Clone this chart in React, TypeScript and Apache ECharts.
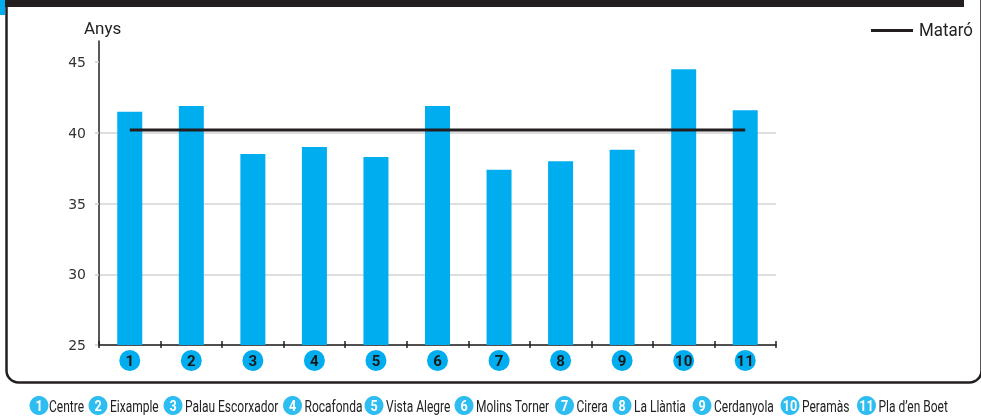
import React, { useEffect, useRef } from "react";
import * as echarts from "echarts";

const categories = ["1", "2", "3", "4", "5", "6", "7", "8", "9", "10", "11"];
const districtNames = [
  "Centre",
  "Eixample",
  "Palau Escorxador",
  "Rocafonda",
  "Vista Alegre",
  "Molins Torner",
  "Cirera",
  "La Llàntia",
  "Cerdanyola",
  "Peramàs",
  "Pla d’en Boet",
];
const ageValues = [41.5, 41.9, 38.5, 39.0, 38.3, 41.9, 37.4, 38.0, 38.8, 44.5, 41.6];
const mataroValues = [40.2, 40.2, 40.2, 40.2, 40.2, 40.2, 40.2, 40.2, 40.2, 40.2, 40.2];
const yTickValues = [25, 30, 35, 40, 45];

// layout (legend circle centres along the bottom)
const legendCentres = [39, 98, 173, 292.5, 374, 464, 564.5, 622, 702, 790, 866.5];

const COND = "Roboto, 'Noto Sans', sans-serif";
const BLUE = "#00aeef";
const DARK = "#231f20";

export default function App() {
  const ref = useRef<HTMLDivElement>(null);
  useEffect(() => {
    if (!ref.current) return;
    const chart = echarts.init(ref.current, null, { renderer: "svg" });

    const legendGraphics: any[] = [];
    districtNames.forEach((name, i) => {
      const cx = legendCentres[i];
      legendGraphics.push({
        type: "circle",
        shape: { cx, cy: 405.5, r: 9.5 },
        style: { fill: "#2ebdf0" },
        silent: true,
      });
      legendGraphics.push({
        type: "text",
        x: cx,
        y: 406,
        scaleX: 0.9,
        style: {
          text: categories[i],
          fill: "#ffffff",
          font: `bold 14px ${COND}`,
          align: "center",
          verticalAlign: "middle",
        },
        silent: true,
      });
      legendGraphics.push({
        type: "text",
        x: cx + (i === 0 ? 10 : 12),
        y: 406,
        scaleX: 0.75,
        style: {
          text: name,
          fill: "#222222",
          font: `16px ${COND}`,
          align: "left",
          verticalAlign: "middle",
        },
        silent: true,
      });
    });

    chart.setOption({
      animation: false,
      grid: { left: 99, right: 205, top: 41, bottom: 71, containLabel: false },
      xAxis: [
        {
          type: "category",
          data: categories,
          position: "bottom",
          axisLine: { show: true, lineStyle: { color: DARK, width: 1.5 } },
          axisTick: { show: true, inside: false, length: 3, lineStyle: { color: DARK, width: 1.5 } },
          axisLabel: {
            margin: 5,
            formatter: (v: string) => `{c|${v}}`,
            rich: {
              c: {
                width: 21,
                height: 21,
                lineHeight: 21,
                borderRadius: 10.5,
                backgroundColor: BLUE,
                color: "#1a1a1a",
                fontWeight: "bold",
                fontSize: 15,
                fontFamily: COND,
                align: "center",
              },
            },
          },
          splitLine: { show: false },
        },
        {
          type: "category",
          data: categories,
          position: "bottom",
          axisLine: { show: false },
          axisTick: { show: true, inside: true, length: 4, lineStyle: { color: DARK, width: 1.5 } },
          axisLabel: { show: false },
          splitLine: { show: false },
        },
      ],
      yAxis: {
        type: "value",
        min: 25,
        max: 46.5,
        interval: 5,
        name: "Anys",
        nameLocation: "end",
        nameGap: 5,
        nameTextStyle: { fontFamily: COND, fontSize: 17, color: "#222", align: "left", padding: [0, 0, 0, -15] },
        axisLine: { show: true, lineStyle: { color: DARK, width: 1.5 } },
        axisTick: {
          show: true,
          length: 4,
          customValues: yTickValues,
          lineStyle: { color: "#cfcfcf", width: 1.5 },
        },
        axisLabel: {
          margin: 13,
          customValues: yTickValues,
          fontFamily: "'DejaVu Sans', sans-serif",
          fontSize: 14,
          color: "#333",
        },
        splitLine: { show: true, showMaxLine: false, lineStyle: { color: "#d3d3d3", width: 1.5 } },
      },
      series: [
        {
          name: "Edat mitjana",
          type: "bar",
          data: ageValues,
          barWidth: 25,
          itemStyle: { color: BLUE },
          xAxisIndex: 0,
        },
        {
          name: "Mataró",
          type: "line",
          data: mataroValues,
          symbol: "none",
          lineStyle: { color: DARK, width: 3 },
          itemStyle: { color: DARK },
          xAxisIndex: 0,
        },
      ],
      graphic: [
        {
          type: "rect",
          shape: { x: 6.5, y: -60, width: 975, height: 442.5, r: 12 },
          style: { fill: "none", stroke: DARK, lineWidth: 2.5 },
          silent: true,
        },
        {
          type: "rect",
          shape: { x: 5, y: 0, width: 959, height: 7 },
          style: { fill: DARK },
          silent: true,
        },
        {
          type: "rect",
          shape: { x: 0, y: 0, width: 5, height: 15 },
          style: { fill: BLUE },
          silent: true,
        },
        {
          type: "line",
          shape: { x1: 871, y1: 30.5, x2: 913, y2: 30.5 },
          style: { stroke: DARK, lineWidth: 3 },
          silent: true,
        },
        {
          type: "text",
          x: 919,
          y: 30,
          scaleX: 0.94,
          style: {
            text: "Mataró",
            fill: "#222",
            font: `18px ${COND}`,
            align: "left",
            verticalAlign: "middle",
          },
          silent: true,
        },
        ...legendGraphics,
      ],
    });
    return () => chart.dispose();
  }, []);
  return (
    <div
      ref={ref}
      style={{ position: "fixed", left: 0, top: 0, width: 981, height: 416 }}
    />
  );
}
